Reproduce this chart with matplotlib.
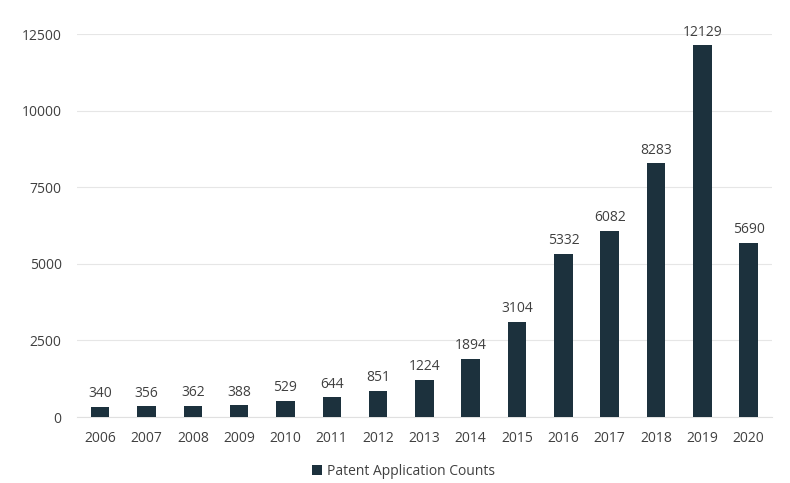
import numpy as np
import matplotlib.pyplot as plt

years = ["2006", "2007", "2008", "2009", "2010", "2011", "2012", "2013",
         "2014", "2015", "2016", "2017", "2018", "2019", "2020"]
counts = [340, 356, 362, 388, 529, 644, 851, 1224, 1894, 3104, 5332, 6082, 8283, 12129, 5690]
yticks = [0, 2500, 5000, 7500, 10000, 12500]

plt.rcParams['font.family'] = ['Open Sans', 'DejaVu Sans']
bar_color = "#1c313d"
text_color = "#404040"

fig = plt.figure(figsize=(7.9, 4.83), dpi=100)
ax = fig.add_axes([0.0975, 0.1366, 0.8795, 0.793])

x_pos = np.arange(len(years))
bars = ax.bar(x_pos, counts, width=0.4, color=bar_color, label="Patent Application Counts", zorder=3)
for b, v in zip(bars, counts):
    ax.annotate(str(v), (b.get_x() + b.get_width() / 2, v), xytext=(0, 4),
                textcoords="offset points", ha="center", va="bottom",
                fontsize=10, color=text_color)

ax.set_xlim(-0.5, len(years) - 0.5)
ax.set_ylim(0, 12500)
ax.set_xticks(x_pos)
ax.set_xticklabels(years)
ax.set_yticks(yticks)
ax.tick_params(axis="both", length=0, labelsize=10, labelcolor=text_color)
ax.tick_params(axis="x", pad=10)
ax.tick_params(axis="y", pad=11)
ax.grid(axis="y", color="#e6e6e6", linewidth=0.8, zorder=0)
for s in ["top", "right", "left"]:
    ax.spines[s].set_visible(False)
ax.spines["bottom"].set_color("#e0e0e0")

ax.legend(loc="upper center", bbox_to_anchor=(0.47, -0.09), frameon=False,
          fontsize=10, handlelength=0.7, handleheight=0.7, handletextpad=0.4,
          labelcolor=text_color)

fig.savefig("out.png", dpi=100)
